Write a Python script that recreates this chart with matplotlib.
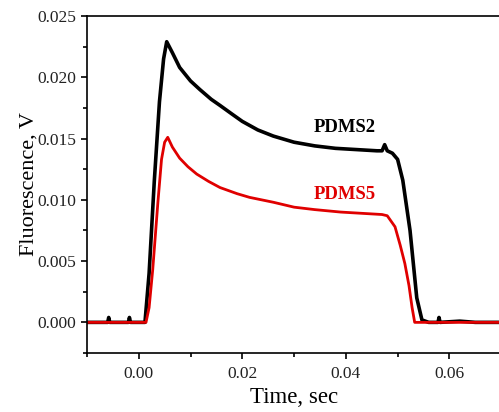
import matplotlib.pyplot as plt
from matplotlib.ticker import MultipleLocator, FormatStrFormatter

# PDMS2 trace (time in s, fluorescence in V)
t_pdms2 = [-0.010, -0.006, -0.0058, -0.0056, -0.002, -0.0018, -0.0016, 0.0000,
           0.0012, 0.0020, 0.0030, 0.0040, 0.0048, 0.0054, 0.0065, 0.0079, 0.0100,
           0.0118, 0.0140, 0.0157, 0.0180, 0.0200, 0.0230, 0.0260, 0.0300, 0.0340,
           0.0380, 0.0420, 0.0460, 0.0470, 0.0475, 0.0480, 0.0490, 0.0500, 0.0510,
           0.0524, 0.0537, 0.0547, 0.0560, 0.0578, 0.0580, 0.0582, 0.0620, 0.0650,
           0.0700]
v_pdms2 = [0.0000, 0.0000, 0.0004, 0.0000, 0.0000, 0.0004, 0.0000, 0.0000,
           0.0000, 0.0040, 0.0115, 0.0180, 0.0215, 0.0229, 0.0220, 0.0208, 0.0197,
           0.0190, 0.0182, 0.0177, 0.0170, 0.0164, 0.0157, 0.0152, 0.0147, 0.0144,
           0.0142, 0.0141, 0.0140, 0.0140, 0.0145, 0.0140, 0.0138, 0.0133, 0.0116,
           0.0075, 0.0020, 0.0002, 0.0000, 0.0000, 0.0004, 0.0000, 0.0001, 0.0000,
           0.0000]

# PDMS5 trace
t_pdms5 = [-0.010, 0.0000, 0.0014, 0.0020, 0.0027, 0.0037, 0.0044, 0.0050, 0.0056,
           0.0065, 0.0079, 0.0095, 0.0112, 0.0135, 0.0157, 0.0190, 0.0214, 0.0260,
           0.0300, 0.0340, 0.0390, 0.0430, 0.0470, 0.0480, 0.0495, 0.0505, 0.0514,
           0.0522, 0.0528, 0.0533, 0.0560, 0.0700]
v_pdms5 = [0.0000, 0.0000, 0.0000, 0.0012, 0.0043, 0.0098, 0.0133, 0.0147, 0.0151,
           0.0143, 0.0134, 0.0127, 0.0121, 0.0115, 0.0110, 0.0105, 0.0102, 0.0098,
           0.0094, 0.0092, 0.0090, 0.0089, 0.0088, 0.0087, 0.0078, 0.0063, 0.0048,
           0.0030, 0.0012, 0.0000, 0.0000, 0.0000]

plt.rcParams['font.family'] = ['Liberation Serif', 'DejaVu Serif']

fig = plt.figure(figsize=(4.99, 4.12), dpi=100)
ax = fig.add_axes([0.1743, 0.1432, 0.830, 0.818])

ax.plot(t_pdms2, v_pdms2, color='black', lw=2.6, solid_joinstyle='round')
ax.plot(t_pdms5, v_pdms5, color='#e00000', lw=2.0, solid_joinstyle='round')

ax.text(0.0398, 0.0159, 'PDMS2', color='black', fontsize=13.5,
        fontweight='bold', ha='center', va='center')
ax.text(0.0398, 0.0104, 'PDMS5', color='#e00000', fontsize=13.5,
        fontweight='bold', ha='center', va='center')

ax.set_xlim(-0.01, 0.07)
ax.set_ylim(-0.0025, 0.025)
ax.xaxis.set_major_locator(MultipleLocator(0.02))
ax.xaxis.set_minor_locator(MultipleLocator(0.01))
ax.yaxis.set_major_locator(MultipleLocator(0.005))
ax.yaxis.set_minor_locator(MultipleLocator(0.0025))
ax.xaxis.set_major_formatter(FormatStrFormatter('%.2f'))
ax.yaxis.set_major_formatter(FormatStrFormatter('%.3f'))

ax.tick_params(which='both', direction='out', width=1.2, labelsize=12.5,
               labelcolor='#222222')
ax.tick_params(which='major', length=4, pad=4)
ax.tick_params(which='minor', length=3)
ax.tick_params(axis='x', which='major', pad=5)
ax.spines['right'].set_visible(False)
for s in ['left', 'bottom', 'top']:
    ax.spines[s].set_linewidth(1.2)

ax.set_xlabel('Time, sec', fontsize=16.5, labelpad=4)
ax.set_ylabel('Fluorescence, V', fontsize=16, labelpad=-1)

fig.savefig('out.png', dpi=100)
